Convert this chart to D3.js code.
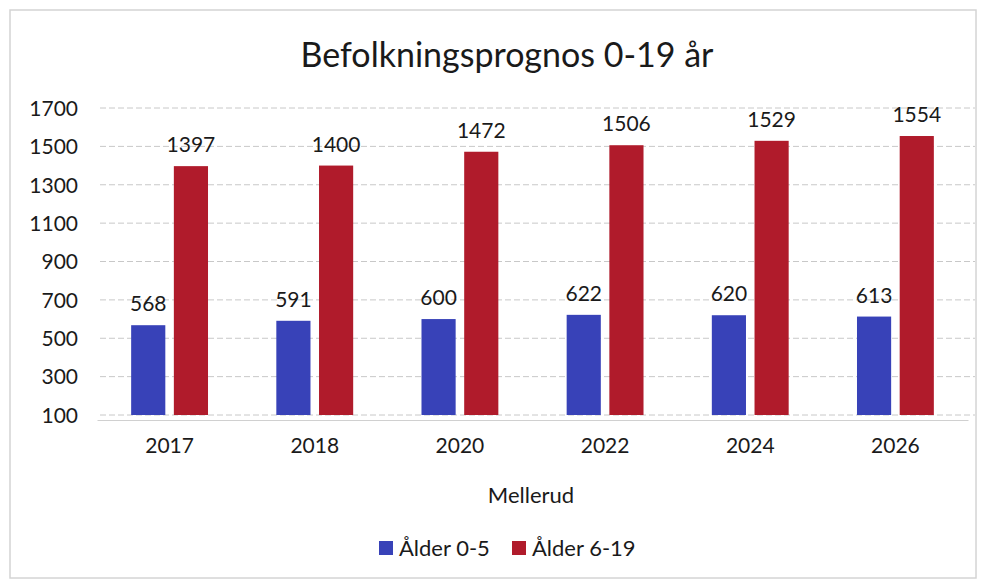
<html>
<head>
<meta charset="utf-8">
<script src="https://d3js.org/d3.v7.min.js"></script>
<style>
  body { margin: 0; background: #fff; }
  svg text { font-family: Lato, "Open Sans", sans-serif; fill: #1a1a1a; }
</style>
</head>
<body>
<div id="container"></div>
<script>
// chart data
var years = ["2017", "2018", "2020", "2022", "2024", "2026"];
var seriesNames = ["Ålder 0-5", "Ålder 6-19"];
var age0to5 = [568, 591, 600, 622, 620, 613];
var age6to19 = [1397, 1400, 1472, 1506, 1529, 1554];
var yTicks = [100, 300, 500, 700, 900, 1100, 1300, 1500, 1700];
var colors = ["#3842b8", "#b01b2b"];

var width = 986, height = 584;
var svg = d3.select("#container").append("svg")
  .attr("width", width)
  .attr("height", height);

// faint frame of the scanned chart
svg.append("rect")
  .attr("x", 10).attr("y", 10)
  .attr("width", 966).attr("height", 568)
  .attr("fill", "none")
  .attr("stroke", "#d4d4d4")
  .attr("stroke-width", 1.5);

var x = d3.scaleBand()
  .domain(years)
  .range([97, 968]);

var inner = d3.scaleBand()
  .domain([0, 1])
  .range([0, x.bandwidth()])
  .paddingInner(0.2)
  .paddingOuter(0.8);

var y = d3.scaleLinear()
  .domain([100, 1700])
  .range([415, 108]);

// gridlines
svg.append("g")
  .selectAll("line")
  .data(yTicks)
  .enter().append("line")
  .attr("x1", 100).attr("x2", 975)
  .attr("y1", function(d) { return y(d); })
  .attr("y2", function(d) { return y(d); })
  .attr("stroke", "#c8c8c8")
  .attr("stroke-dasharray", "6,3");

// y axis labels
var yAxis = svg.append("g")
  .attr("transform", "translate(86,0)")
  .call(d3.axisLeft(y).tickValues(yTicks).tickFormat(d3.format("d")).tickSize(0).tickPadding(8));
yAxis.select(".domain").remove();
yAxis.selectAll("text")
  .style("font-size", "21px")
  .attr("dy", "0.35em");

// x axis
var xAxis = svg.append("g")
  .attr("transform", "translate(0,420)")
  .call(d3.axisBottom(x).tickSize(0).tickPadding(18));
xAxis.select(".domain").attr("stroke", "#d0d0d0");
xAxis.selectAll("text").style("font-size", "21px");

var data = [];
years.forEach(function(yr, i) {
  data.push({ year: yr, s: 0, v: age0to5[i] });
  data.push({ year: yr, s: 1, v: age6to19[i] });
});

// bars
svg.append("g")
  .selectAll("rect")
  .data(data)
  .enter().append("rect")
  .attr("x", function(d) { return x(d.year) + inner(d.s); })
  .attr("y", function(d) { return y(d.v); })
  .attr("width", inner.bandwidth())
  .attr("height", function(d) { return y(100) - y(d.v); })
  .attr("fill", function(d) { return colors[d.s]; });

// value labels
svg.append("g")
  .selectAll("text")
  .data(data)
  .enter().append("text")
  .attr("x", function(d) { return x(d.year) + inner(d.s) + inner.bandwidth() / 2; })
  .attr("y", function(d) { return y(d.v) - 14; })
  .attr("text-anchor", "middle")
  .style("font-size", "21px")
  .text(function(d) { return d.v; });

// title
svg.append("text")
  .attr("x", 507).attr("y", 67)
  .attr("text-anchor", "middle")
  .style("font-size", "34px")
  .text("Befolkningsprognos 0-19 år");

// axis title
svg.append("text")
  .attr("x", 531).attr("y", 503)
  .attr("text-anchor", "middle")
  .style("font-size", "22px")
  .text("Mellerud");

// legend
var legend = svg.append("g")
  .selectAll("g")
  .data(seriesNames)
  .enter().append("g")
  .attr("transform", function(d, i) { return "translate(" + (379 + i * 133) + ",548)"; });
legend.append("rect")
  .attr("x", 0).attr("y", -7)
  .attr("width", 14).attr("height", 14)
  .attr("fill", function(d, i) { return colors[i]; });
legend.append("text")
  .attr("x", 20).attr("y", 0)
  .attr("dy", "0.35em")
  .style("font-size", "22px")
  .text(function(d) { return d; });
</script>
</body>
</html>
